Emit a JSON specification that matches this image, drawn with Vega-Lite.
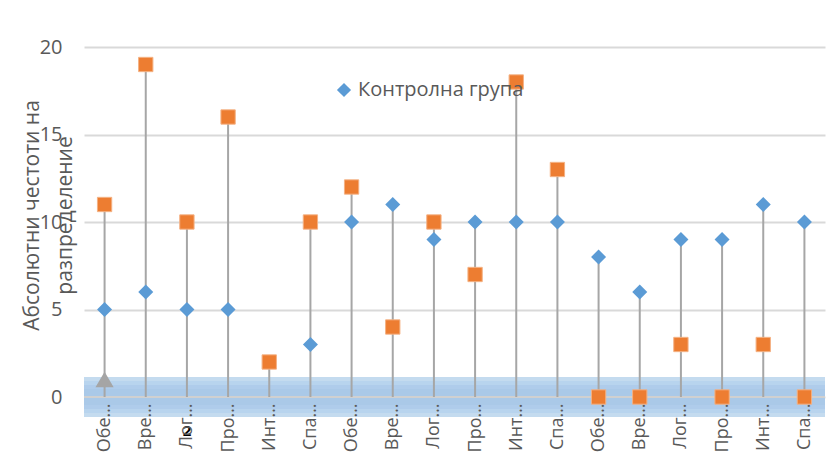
{
  "$schema": "https://vega.github.io/schema/vega-lite/v6.json",
  "width": 741,
  "height": 350,
  "autosize": {"type": "none"},
  "padding": {"left": 84, "top": 47, "right": 15, "bottom": 75},
  "background": "white",
  "config": {
    "view": {"stroke": null},
    "font": "Open Sans"
  },
  "data": {
    "values": [
      {"id": 1, "series": "Контролна група", "value": 5},
      {"id": 1, "series": "Експериментална група", "value": 11},
      {"id": 1, "series": "Трета група", "value": 1},
      {"id": 2, "series": "Контролна група", "value": 6},
      {"id": 2, "series": "Експериментална група", "value": 19},
      {"id": 3, "series": "Контролна група", "value": 5},
      {"id": 3, "series": "Експериментална група", "value": 10},
      {"id": 4, "series": "Контролна група", "value": 5},
      {"id": 4, "series": "Експериментална група", "value": 16},
      {"id": 5, "series": "Експериментална група", "value": 2},
      {"id": 6, "series": "Контролна група", "value": 3},
      {"id": 6, "series": "Експериментална група", "value": 10},
      {"id": 7, "series": "Контролна група", "value": 10},
      {"id": 7, "series": "Експериментална група", "value": 12},
      {"id": 8, "series": "Контролна група", "value": 11},
      {"id": 8, "series": "Експериментална група", "value": 4},
      {"id": 9, "series": "Контролна група", "value": 9},
      {"id": 9, "series": "Експериментална група", "value": 10},
      {"id": 10, "series": "Контролна група", "value": 10},
      {"id": 10, "series": "Експериментална група", "value": 7},
      {"id": 11, "series": "Контролна група", "value": 10},
      {"id": 11, "series": "Експериментална група", "value": 18},
      {"id": 12, "series": "Контролна група", "value": 10},
      {"id": 12, "series": "Експериментална група", "value": 13},
      {"id": 13, "series": "Контролна група", "value": 8},
      {"id": 13, "series": "Експериментална група", "value": 0},
      {"id": 14, "series": "Контролна група", "value": 6},
      {"id": 14, "series": "Експериментална група", "value": 0},
      {"id": 15, "series": "Контролна група", "value": 9},
      {"id": 15, "series": "Експериментална група", "value": 3},
      {"id": 16, "series": "Контролна група", "value": 9},
      {"id": 16, "series": "Експериментална група", "value": 0},
      {"id": 17, "series": "Контролна група", "value": 11},
      {"id": 17, "series": "Експериментална група", "value": 3},
      {"id": 18, "series": "Контролна група", "value": 10},
      {"id": 18, "series": "Експериментална група", "value": 0}
    ]
  },
  "encoding": {
    "x": {
      "field": "id",
      "type": "ordinal",
      "scale": {"type": "point", "padding": 0.5},
      "axis": {
        "title": null,
        "zindex": 2,
        "labelAngle": -90,
        "labelAlign": "right",
        "labelBaseline": "middle",
        "labelFontSize": 18,
        "labelColor": "#595959",
        "labelPadding": 6,
        "labelOverlap": false,
        "ticks": false,
        "domain": false,
        "grid": false,
        "labelExpr": "['Обе…','Вре…','Лог…','Про…','Инт…','Спа…'][(datum.value - 1) % 6]"
      }
    }
  },
  "layer": [
    {
      "mark": {"type": "rule", "color": "#c5dbf0", "strokeWidth": 40, "strokeOpacity": 0.3},
      "encoding": {"y": {"datum": 0, "type": "quantitative", "scale": {"domain": [0, 20]}, "axis": {
        "title": ["Абсолютни честоти на", "разпределение"],
        "titleFontSize": 21,
        "titleFontWeight": "normal",
        "titleColor": "#595959",
        "titleAngle": -90,
        "titleAlign": "center",
        "titleBaseline": "alphabetic",
        "titleLineHeight": 33,
        "titleX": -46,
        "titleY": 168,
        "labelFontSize": 20,
        "labelColor": "#595959",
        "labelPadding": 22,
        "labelOverlap": false,
        "values": [0, 5, 10, 15, 20],
        "ticks": false,
        "domain": false,
        "grid": true,
        "gridColor": "#d9d9d9",
        "gridWidth": 2
      }}, "x": null}
    },
    {
      "mark": {"type": "rule", "color": "#b8d3ed", "strokeWidth": 32, "strokeOpacity": 0.35},
      "encoding": {"y": {"datum": 0, "type": "quantitative"}, "x": null}
    },
    {
      "mark": {"type": "rule", "color": "#b0cdea", "strokeWidth": 24, "strokeOpacity": 0.45},
      "encoding": {"y": {"datum": 0, "type": "quantitative"}, "x": null}
    },
    {
      "mark": {"type": "rule", "color": "#a9c9e8", "strokeWidth": 16, "strokeOpacity": 0.55},
      "encoding": {"y": {"datum": 0, "type": "quantitative"}, "x": null}
    },
    {
      "mark": {"type": "rule", "color": "#d0d0d0", "strokeWidth": 2},
      "encoding": {"y": {"datum": 0, "type": "quantitative"}, "x": null}
    },
    {
      "mark": {"type": "rule", "color": "#a6a6a6", "strokeWidth": 2},
      "encoding": {
        "y": {"aggregate": "max", "field": "value", "type": "quantitative"},
        "y2": {"datum": 0}
      }
    },
    {
      "transform": [{"filter": "datum.series === 'Трета група'"}],
      "mark": {"type": "point", "shape": "triangle-up", "filled": true, "size": 330, "color": "#a5a5a5", "opacity": 1},
      "encoding": {"y": {"field": "value", "type": "quantitative"}}
    },
    {
      "transform": [{"filter": "datum.series === 'Експериментална група'"}],
      "mark": {"type": "square", "filled": true, "size": 205, "color": "#ed7d31", "opacity": 1, "stroke": "#f4b183", "strokeWidth": 1},
      "encoding": {"y": {"field": "value", "type": "quantitative"}}
    },
    {
      "transform": [{"filter": "datum.series === 'Контролна група'"}],
      "mark": {"type": "point", "shape": "diamond", "filled": true, "size": 225, "opacity": 1},
      "encoding": {
        "y": {"field": "value", "type": "quantitative"},
        "color": {
          "field": "series",
          "type": "nominal",
          "scale": {"domain": ["Контролна група"], "range": ["#5b9bd5"]},
          "legend": {
            "title": null,
            "orient": "none",
            "legendX": 250,
            "legendY": 33,
            "symbolType": "diamond",
            "symbolSize": 200,
            "symbolStrokeWidth": 0,
            "labelFontSize": 20,
            "labelLimit": 400,
            "labelColor": "#595959",
            "labelOffset": 4
          }
        }
      }
    },
    {
      "data": {"values": [{"id": 3, "label": "2"}]},
      "mark": {"type": "text", "fontSize": 15, "fontWeight": "bold", "color": "#000000", "dy": 34},
      "encoding": {
        "y": {"datum": 0, "type": "quantitative"},
        "text": {"field": "label"}
      }
    }
  ]
}
